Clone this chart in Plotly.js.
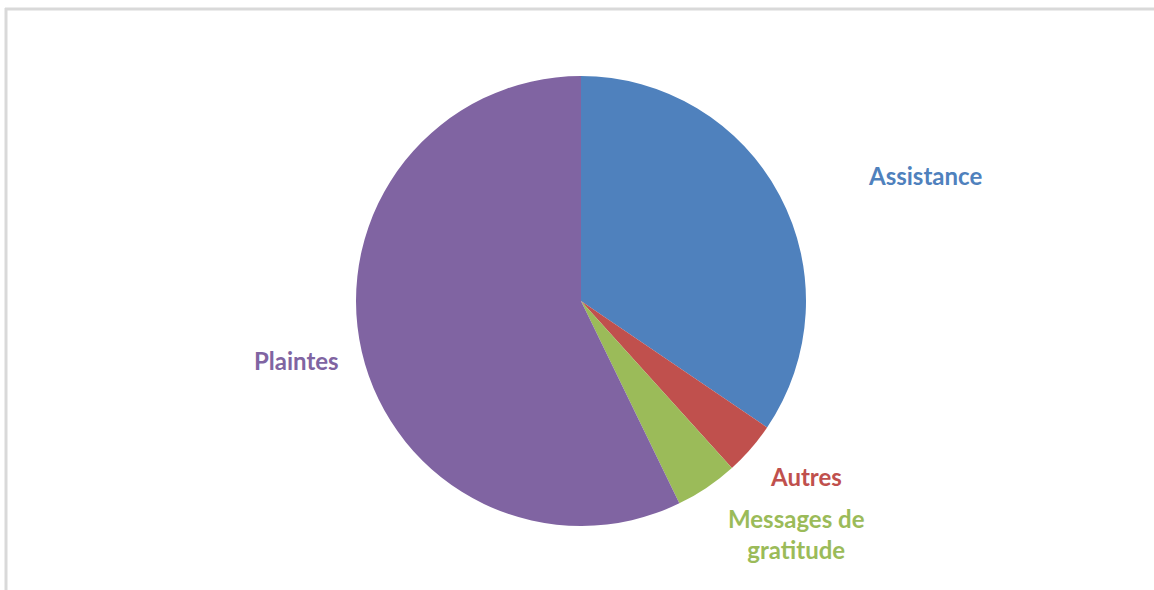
<!DOCTYPE html>
<html>
<head>
<meta charset="utf-8">
<script src="https://cdn.plot.ly/plotly-3.0.1.min.js"></script>
<style>
html,body{margin:0;padding:0;background:#fff;}
#chart{width:1154px;height:590px;}
</style>
</head>
<body>
<div id="chart"></div>
<script>
const categories = ["Assistance", "Autres", "Messages de gratitude", "Plaintes"];
const values = [34.5, 3.8, 4.5, 57.2];
const labelTexts = ["Assistance", "Autres", "Messages de<br>gratitude", "Plaintes"];
const colors = ["#4F81BD", "#C0504D", "#9BBB59", "#8064A2"];
const labelPos = [[925, 176], [806, 476], [796, 534], [296, 360]];

const W = 1154, H = 590;

const trace = {
  type: "pie",
  labels: categories,
  values: values,
  sort: false,
  direction: "clockwise",
  rotation: 0,
  textinfo: "none",
  hoverinfo: "label+percent",
  marker: { colors: colors, line: { width: 0 } },
  domain: { x: [356 / W, 806 / W], y: [64 / H, 514 / H] },
  showlegend: false
};

const annotations = categories.map((c, i) => ({
  xref: "paper", yref: "paper",
  x: labelPos[i][0] / W, y: 1 - labelPos[i][1] / H,
  xanchor: "center", yanchor: "middle",
  text: "<b>" + labelTexts[i] + "</b>",
  showarrow: false,
  font: { family: "Lato, 'Open Sans', sans-serif", size: 24, color: colors[i] },
  align: "center"
}));

const layout = {
  width: W, height: H,
  margin: { l: 0, r: 0, t: 0, b: 0 },
  paper_bgcolor: "#ffffff",
  showlegend: false,
  annotations: annotations,
  shapes: [
    { type: "line", xref: "paper", yref: "paper", x0: 5 / W, x1: 1, y0: 1 - 9 / H, y1: 1 - 9 / H, line: { color: "#d9d9d9", width: 3 } },
    { type: "line", xref: "paper", yref: "paper", x0: 6 / W, x1: 6 / W, y0: 0, y1: 1 - 8 / H, line: { color: "#d9d9d9", width: 3 } }
  ]
};

Plotly.newPlot("chart", [trace], layout, { displayModeBar: false, staticPlot: true });
</script>
</body>
</html>
